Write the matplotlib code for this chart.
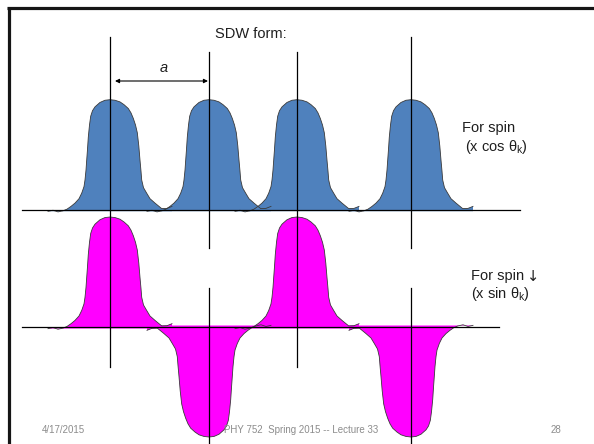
import matplotlib.pyplot as plt

plt.rcParams['font.family'] = ['Liberation Sans', 'DejaVu Sans']
plt.rcParams['mathtext.fontset'] = 'custom'
plt.rcParams['mathtext.rm'] = 'Liberation Sans'

# lattice sites (slide pixels) and the sign of each spin component there
sites = [110, 209, 297, 411]
cos_amp = [1, 1, 1, 1]
sin_amp = [1, -1, 1, -1]

peak_height = 110
upper_base = 209.7
lower_base = 327.0

# one hand-drawn orbital lobe: offset from the site and fraction of full height
profile_dx = [-62, -57, -52, -47, -43, -39, -35, -31, -28.3, -26, -25, -24, -23.3,
              -22.5, -21.7, -20.5, -19.3, -17.5, -15, -10, -5, 0, 5, 10, 14, 18.3,
              21, 23.3, 25.5, 27.3, 28.8, 30, 31, 31.7, 33.5, 36.7, 40, 45, 51.7,
              57, 62]
profile_h = [-0.015, -0.005, -0.02, -0.01, 0.005, 0.03, 0.06, 0.1, 0.15, 0.21,
             0.27, 0.36, 0.45, 0.55, 0.66, 0.77, 0.85, 0.9, 0.935, 0.975, 0.995,
             1.0, 0.995, 0.98, 0.955, 0.92, 0.88, 0.83, 0.77, 0.70, 0.58, 0.45,
             0.35, 0.27, 0.2, 0.15, 0.1, 0.06, 0.01, 0.012, 0.03]

blue = '#4F81BD'
magenta = '#FF00FF'
edge = '#3a3a3a'
ink = '#1e1e1e'

fig = plt.figure(figsize=(5.94, 4.44), dpi=100)
ax = fig.add_axes([0, 0, 1, 1])
ax.set_xlim(0, 594)
ax.set_ylim(444, 0)
ax.axis('off')


def lobe(x0, base, amp, color):
    # negative lobes are the same shape turned upside down
    xs = [x0 + amp * dx for dx in profile_dx]
    ys = [base - amp * h * peak_height for h in profile_h]
    ax.fill(xs + [xs[-1], xs[0]], ys + [base + amp * 1.5, base + amp * 1.5],
            color=color, lw=0, zorder=1)
    ax.plot(xs, ys, color=edge, lw=0.6, zorder=2)


for x0, amp in zip(sites, cos_amp):
    lobe(x0, upper_base, amp, blue)
for x0, amp in zip(sites, sin_amp):
    lobe(x0, lower_base, amp, magenta)

# baselines and site markers
ax.plot([22, 520], [upper_base, upper_base], color='black', lw=0.9, zorder=3)
ax.plot([22, 499], [lower_base, lower_base], color='black', lw=0.9, zorder=3)

v_top = [37, 52, 52, 37]
v_bottom = [367, 248, 367, 248]
for x0, t, b in zip(sites, v_top, v_bottom):
    ax.plot([x0, x0], [t, b], color='black', lw=0.9, zorder=3)
for x0, amp in zip(sites, sin_amp):
    if amp < 0:
        ax.plot([x0, x0], [288, 444], color='black', lw=0.9, zorder=3)

# lattice constant
ax.annotate('', xy=(sites[1] - 1, 81), xytext=(sites[0] + 5, 81),
            arrowprops=dict(arrowstyle='<|-|>', color='black', lw=0.8,
                            mutation_scale=6, shrinkA=0, shrinkB=0))
ax.text(164, 68, 'a', fontsize=10.5, style='italic', color=ink, ha='center', va='center')

ax.text(251, 34, 'SDW form:', fontsize=10.5, color=ink, ha='center', va='center')
ax.text(462, 128, 'For spin', fontsize=10.5, color=ink, ha='left', va='center')
ax.text(465, 147, r'(x cos θ$_\mathregular{k}$)', fontsize=10.5, color=ink,
        ha='left', va='center')
ax.text(471, 276, 'For spin', fontsize=10.5, color=ink, ha='left', va='center')
ax.text(533, 276, '↓', fontsize=10.5, color=ink, family=['DejaVu Sans'],
        ha='center', va='center')
ax.text(471, 294, r'(x sin θ$_\mathregular{k}$)', fontsize=10.5, color=ink,
        ha='left', va='center')

# slide frame and footer
ax.plot([7, 594], [8.5, 8.5], color='#151515', lw=2.3, solid_capstyle='butt', zorder=5)
ax.plot([8.5, 8.5], [7, 444], color='#151515', lw=2.3, solid_capstyle='butt', zorder=5)

footer = '#8c8c8c'
ax.text(42, 430, '4/17/2015', fontsize=7, color=footer, ha='left', va='center')
ax.text(224, 430, 'PHY 752  Spring 2015 -- Lecture 33', fontsize=7, color=footer,
        ha='left', va='center', zorder=4)
ax.text(551, 430, '28', fontsize=7, color=footer, ha='left', va='center')

fig.savefig('out.png', dpi=100)
